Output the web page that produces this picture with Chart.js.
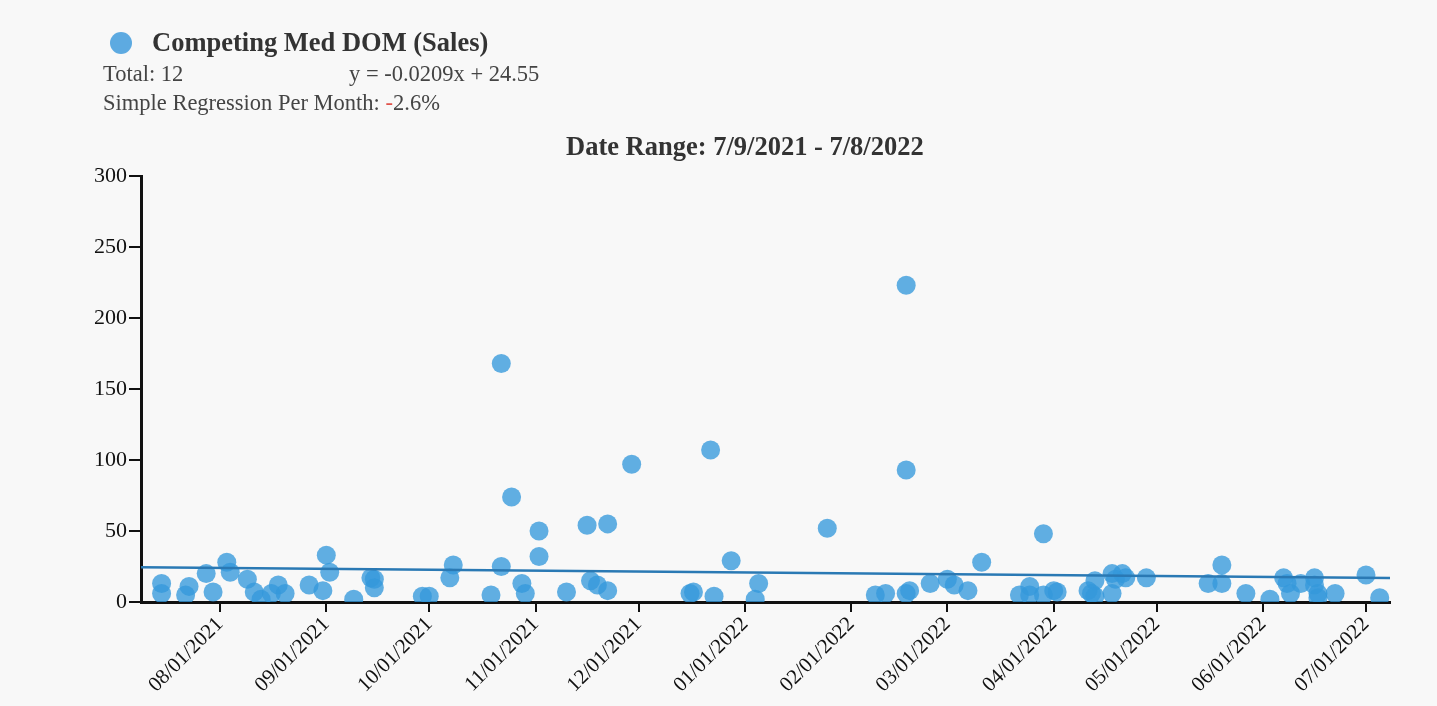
<!DOCTYPE html>
<html>
<head>
<meta charset="utf-8">
<script src="https://cdn.jsdelivr.net/npm/chart.js@4.4.0/dist/chart.umd.min.js"></script>
<style>
  body { margin: 0; background: #f8f8f8; font-family: "Liberation Serif", "Times New Roman", serif; color: #333; }
  #wrap { position: relative; width: 1437px; height: 706px; overflow: hidden; }
  #myChart { position: absolute; left: 0; top: 0; }
  .txt { position: absolute; line-height: 1; white-space: nowrap; }
  .dot { position: absolute; left: 110px; top: 32px; width: 22px; height: 22px; border-radius: 50%; background: rgb(93,170,225); }
</style>
</head>
<body>
<div id="wrap">
  <canvas id="myChart" width="1437" height="706"></canvas>
  <div class="dot"></div>
  <div class="txt" style="left:152px; top:29px; font-size:26.5px; font-weight:bold; color:#333;">Competing Med DOM (Sales)</div>
  <div class="txt" style="left:103px; top:63px; font-size:22.5px; color:#444;">Total: 12</div>
  <div class="txt" style="left:349px; top:63px; font-size:22.5px; color:#444;">y = -0.0209x + 24.55</div>
  <div class="txt" style="left:103px; top:92px; font-size:22.5px; color:#444;">Simple Regression Per Month: <span style="color:#e0524a;">-</span>2.6%</div>
  <div class="txt" style="left:566px; top:133px; font-size:26.5px; font-weight:bold; color:#333;">Date Range: 7/9/2021 - 7/8/2022</div>
</div>
<script>
// sales (date, days on market)
const saleDates = [
    '2021-07-15', '2021-07-15', '2021-07-22', '2021-07-23', '2021-07-28', '2021-07-30',
    '2021-08-03', '2021-08-04', '2021-08-09', '2021-08-11', '2021-08-13', '2021-08-16', '2021-08-18', '2021-08-20', '2021-08-27', '2021-08-31',
    '2021-09-01', '2021-09-02', '2021-09-09', '2021-09-14', '2021-09-15', '2021-09-15', '2021-09-29',
    '2021-10-01', '2021-10-07', '2021-10-08', '2021-10-19', '2021-10-22', '2021-10-22', '2021-10-25', '2021-10-28', '2021-10-29',
    '2021-11-02', '2021-11-02', '2021-11-10', '2021-11-16', '2021-11-17', '2021-11-19', '2021-11-22', '2021-11-22', '2021-11-29',
    '2021-12-16', '2021-12-17', '2021-12-22', '2021-12-23', '2021-12-28',
    '2022-01-04', '2022-01-05', '2022-01-25',
    '2022-02-08', '2022-02-11', '2022-02-17', '2022-02-17', '2022-02-17', '2022-02-18', '2022-02-24',
    '2022-03-01', '2022-03-03', '2022-03-07', '2022-03-11', '2022-03-22', '2022-03-25', '2022-03-25', '2022-03-29', '2022-03-29',
    '2022-04-01', '2022-04-02', '2022-04-11', '2022-04-12', '2022-04-13', '2022-04-13', '2022-04-18', '2022-04-18', '2022-04-19', '2022-04-21', '2022-04-22', '2022-04-28',
    '2022-05-16', '2022-05-20', '2022-05-20', '2022-05-27',
    '2022-06-03', '2022-06-07', '2022-06-08', '2022-06-09', '2022-06-12', '2022-06-16', '2022-06-16', '2022-06-17', '2022-06-17', '2022-06-22',
    '2022-07-01', '2022-07-05'
]
const domValues = [
    13, 6, 5, 11, 20, 7,
    28, 21, 16, 7, 2, 6, 12, 6, 12, 8,
    33, 21, 2, 17, 16, 10, 4,
    4, 17, 26, 5, 168, 25, 74, 13, 6,
    50, 32, 7, 54, 15, 12, 55, 8, 97,
    6, 7, 107, 4, 29,
    2, 13, 52,
    5, 6, 223, 93, 6, 8, 13,
    16, 12, 8, 28, 5, 11, 5, 48, 5,
    8, 7, 8, 6, 15, 4, 20, 6, 16, 20, 17, 17,
    13, 26, 13, 6,
    2, 17, 13, 6, 13, 17, 12, 6, 3, 6,
    19, 3
]

// regression line end points (from y = -0.0209x + 24.55)
const regDates = ['2021-07-09', '2022-07-08']
const regValues = [24.55, 16.94]

// axis ticks
const monthTicks = ['08/01/2021', '09/01/2021', '10/01/2021', '11/01/2021', '12/01/2021', '01/01/2022',
    '02/01/2022', '03/01/2022', '04/01/2022', '05/01/2022', '06/01/2022', '07/01/2022']
const yTicks = [0, 50, 100, 150, 200, 250, 300]

const startDay = Date.UTC(2021, 6, 9)
const toDay = s => (Date.parse(s) - startDay) / 86400000
const tickDay = t => {
    let p = t.split('/')
    return (Date.UTC(+p[2], +p[0] - 1, +p[1]) - startDay) / 86400000
}

const points = saleDates.map((d, i) => ({ x: toDay(d), y: domValues[i] }))
const regLine = regDates.map((d, i) => ({ x: toDay(d), y: regValues[i] }))

const serif = '"Liberation Serif", "Times New Roman", serif'

const data = {
    datasets: [
        {
            type: 'line',
            label: 'Regression',
            data: regLine,
            borderColor: '#2a79b4',
            borderWidth: 2.5,
            pointRadius: 0,
            fill: false,
            order: 0
        },
        {
            type: 'scatter',
            label: 'Competing Med DOM (Sales)',
            data: points,
            backgroundColor: 'rgba(52,152,219,0.78)',
            borderWidth: 0,
            pointRadius: 9.5,
            pointHoverRadius: 9.5,
            order: 1
        }
    ]
}

const config = {
    type: 'scatter',
    data,
    options: {
        responsive: false,
        animation: false,
        layout: { padding: { left: 0, top: 176, right: 47, bottom: 0 } },
        plugins: {
            legend: { display: false },
            title: { display: false },
            tooltip: { enabled: false }
        },
        scales: {
            x: {
                type: 'linear',
                min: 0,
                max: toDay('2022-07-08'),
                afterBuildTicks: scale => {
                    scale.ticks = monthTicks.map(t => ({ value: tickDay(t) }))
                },
                afterFit: scale => { scale.height = 104 },
                ticks: {
                    autoSkip: false,
                    minRotation: 45,
                    maxRotation: 45,
                    padding: 0,
                    color: '#111',
                    font: { family: serif, size: 21 },
                    callback: (v, i) => monthTicks[i]
                },
                grid: { drawOnChartArea: false, drawTicks: true, tickLength: 10, color: '#111', lineWidth: 2 },
                border: { display: true, color: '#111', width: 3 }
            },
            y: {
                min: 0,
                max: 300,
                afterBuildTicks: scale => {
                    scale.ticks = yTicks.map(v => ({ value: v }))
                },
                afterFit: scale => { scale.width = 141 },
                ticks: {
                    padding: 2,
                    color: '#111',
                    font: { family: serif, size: 22 }
                },
                grid: { drawOnChartArea: false, drawTicks: true, tickLength: 12, color: '#111', lineWidth: 2 },
                border: { display: true, color: '#111', width: 3 }
            }
        }
    }
}

const myChart = new Chart(
    document.getElementById('myChart'),
    config
);
</script>
</body>
</html>
